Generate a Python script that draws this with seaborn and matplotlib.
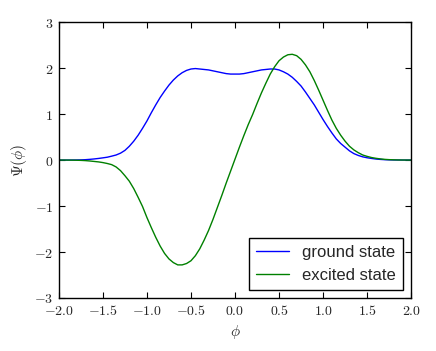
import numpy as np
import pandas as pd
import matplotlib
matplotlib.use("Agg")
import matplotlib.pyplot as plt
import seaborn as sns

# values, every 0.05 in phi
phi = [-2.00, -1.95, -1.90, -1.85, -1.80, -1.75, -1.70, -1.65, -1.60, -1.55,
       -1.50, -1.45, -1.40, -1.35, -1.30, -1.25, -1.20, -1.15, -1.10, -1.05,
       -1.00, -0.95, -0.90, -0.85, -0.80, -0.75, -0.70, -0.65, -0.60, -0.55,
       -0.50, -0.45, -0.40, -0.35, -0.30, -0.25, -0.20, -0.15, -0.10, -0.05,
       0.00, 0.05, 0.10, 0.15, 0.20, 0.25, 0.30, 0.35, 0.40, 0.45,
       0.50, 0.55, 0.60, 0.65, 0.70, 0.75, 0.80, 0.85, 0.90, 0.95,
       1.00, 1.05, 1.10, 1.15, 1.20, 1.25, 1.30, 1.35, 1.40, 1.45,
       1.50, 1.55, 1.60, 1.65, 1.70, 1.75, 1.80, 1.85, 1.90, 1.95, 2.00]
ground = [0.000, 0.000, 0.000, 0.001, 0.002, 0.004, 0.008, 0.015, 0.024, 0.035,
          0.048, 0.062, 0.085, 0.11, 0.15, 0.21, 0.30, 0.41, 0.54, 0.69,
          0.85, 1.03, 1.20, 1.36, 1.50, 1.63, 1.74, 1.83, 1.90, 1.95,
          1.98, 1.99, 1.98, 1.97, 1.96, 1.94, 1.92, 1.90, 1.88, 1.87,
          1.87, 1.87, 1.88, 1.90, 1.92, 1.94, 1.96, 1.97, 1.98, 1.98,
          1.96, 1.92, 1.87, 1.80, 1.71, 1.61, 1.48, 1.34, 1.20, 1.04,
          0.88, 0.73, 0.59, 0.46, 0.36, 0.28, 0.20, 0.14, 0.10, 0.07,
          0.05, 0.035, 0.022, 0.014, 0.008, 0.004, 0.002, 0.001, 0.0, 0.0, 0.0]
excited = [0.0, 0.0, -0.001, -0.002, -0.004, -0.007, -0.012, -0.02, -0.03, -0.04,
           -0.055, -0.075, -0.10, -0.15, -0.23, -0.34, -0.46, -0.62, -0.81, -1.01,
           -1.25, -1.47, -1.68, -1.87, -2.03, -2.15, -2.23, -2.28, -2.28, -2.25,
           -2.19, -2.08, -1.93, -1.74, -1.53, -1.29, -1.03, -0.77, -0.50, -0.24,
           0.02, 0.28, 0.53, 0.77, 0.99, 1.23, 1.46, 1.67, 1.87, 2.03,
           2.16, 2.24, 2.29, 2.30, 2.27, 2.19, 2.07, 1.92, 1.73, 1.52,
           1.30, 1.08, 0.87, 0.69, 0.54, 0.41, 0.30, 0.22, 0.16, 0.11,
           0.08, 0.055, 0.038, 0.025, 0.015, 0.009, 0.005, 0.002, 0.001, 0.0, 0.0]
labels = ["ground state", "excited state"]

xticks = [-2.0, -1.5, -1.0, -0.5, 0.0, 0.5, 1.0, 1.5, 2.0]
yticks = [-3, -2, -1, 0, 1, 2, 3]

df = pd.DataFrame({
    "phi": phi * 2,
    "psi": ground + excited,
    "state": [labels[0]] * len(phi) + [labels[1]] * len(phi),
})

sns.set_style("ticks")
plt.rcParams["mathtext.fontset"] = "cm"
plt.rcParams["xtick.direction"] = "in"
plt.rcParams["ytick.direction"] = "in"

fig = plt.figure(figsize=(4.36, 3.51), dpi=100)
ax = fig.add_axes([0.135, 0.151, 0.808, 0.786])

sns.lineplot(data=df, x="phi", y="psi", hue="state", palette=["blue", "green"],
             linewidth=1.0, ax=ax)

ax.set_xlim(-2, 2)
ax.set_ylim(-3, 3)
ax.set_xticks(xticks)
ax.set_xticklabels([f"${v:.1f}$" for v in xticks], fontsize=10)
ax.set_yticks(yticks)
ax.set_yticklabels([f"${v}$" for v in yticks], fontsize=10)
ax.tick_params(top=True, right=True, length=4, width=0.8, color="black", pad=4)
for s in ax.spines.values():
    s.set_color("black")
    s.set_linewidth(1.0)
ax.set_xlabel(r"$\phi$", fontsize=11)
ax.set_ylabel(r"$\Psi(\phi)$", fontsize=11)

leg = ax.legend(loc="lower right", fancybox=False, framealpha=1,
                edgecolor="black", prop={"family": "Liberation Sans", "size": 12},
                handlelength=2.0)
leg.get_frame().set_linewidth(1.0)

fig.savefig("out.png", dpi=100)
